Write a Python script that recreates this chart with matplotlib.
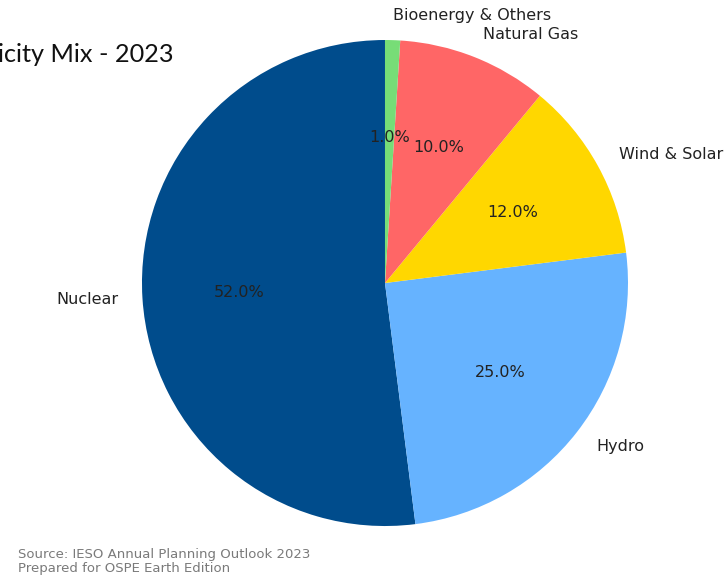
import matplotlib.pyplot as plt

# Ontario electricity mix 2023 (share of generation, %)
sources = ['Nuclear', 'Hydro', 'Wind & Solar', 'Natural Gas', 'Bioenergy & Others']
shares = [52, 25, 12, 10, 1]
colors = ['#004c8c', '#66b3ff', '#ffd700', '#ff6666', '#77dd77']

fig = plt.figure(figsize=(7.24, 5.79), dpi=100)
ax = fig.add_axes([0.1961, 0.0915, 0.6713, 0.8394])

wedges, texts, autotexts = ax.pie(
    shares, labels=sources, colors=colors, autopct='%1.1f%%',
    startangle=90, counterclock=True, labeldistance=1.1, pctdistance=0.6,
    textprops={'fontsize': 11.5, 'color': '#222222', 'family': 'DejaVu Sans'})
ax.set_xlim(-1, 1)
ax.set_ylim(-1, 1)
ax.set_aspect('equal')
ax.axis('off')

# title is cut off at the left edge in the reference
fig.text(174 / 724, 1 - 62 / 579, 'Ontario Electricity Mix - 2023', ha='right', va='baseline',
         fontsize=18.2, family='Lato', color='#111111')

fig.text(18 / 724, 1 - 575 / 579,
         'Source: IESO Annual Planning Outlook 2023\nPrepared for OSPE Earth Edition',
         ha='left', va='bottom', fontsize=9.5, color='#7a7a7a', linespacing=1.12,
         family='DejaVu Sans')

fig.savefig('out.png', dpi=100, facecolor='white')
